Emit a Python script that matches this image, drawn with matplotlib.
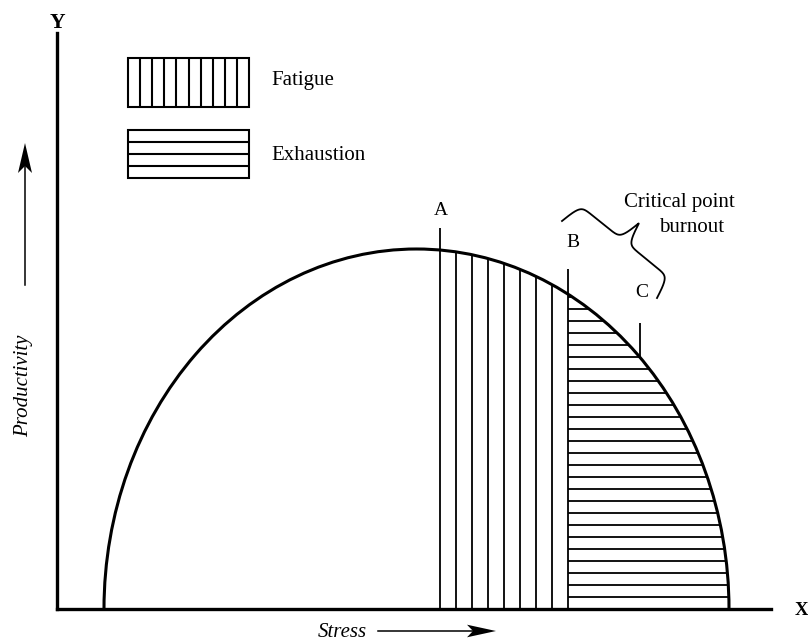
import numpy as np
import matplotlib.pyplot as plt
from matplotlib.patches import Arc, Ellipse, Rectangle, Polygon

plt.rcParams['font.family'] = ['Liberation Serif', 'DejaVu Serif']

# Productivity curve (half ellipse over the stress axis)
curve_start = 47
curve_end = 672
peak_productivity = 360

# Points A, B, C on the stress axis and how high their markers reach
point_names = ['A', 'B', 'C']
point_stress = [383, 511, 583]
marker_top = [381, 340, 286]
c_marker_bottom = 252

# hatching spacing
fatigue_step = 16
exhaustion_step = 12

fig = plt.figure(figsize=(8.08, 6.41), dpi=100)
ax = fig.add_axes([57 / 808, 32 / 641, 714 / 808, 576 / 641])
ax.set_xlim(0, 714)
ax.set_ylim(0, 576)
for s in ['top', 'right']:
    ax.spines[s].set_visible(False)
for s in ['left', 'bottom']:
    ax.spines[s].set_linewidth(2.4)
ax.set_xticks([])
ax.set_yticks([])

center = (curve_start + curve_end) / 2
width = curve_end - curve_start
ax.add_patch(Arc((center, 0), width, 2 * peak_productivity, theta1=0, theta2=180,
                 lw=2.2, color='black'))
clip = Ellipse((center, 0), width, 2 * peak_productivity, transform=ax.transData)

a, b, c = point_stress
# fatigue zone: vertical hatch between A and B
fx = np.arange(a + fatigue_step, b - 1, fatigue_step)
vl = ax.vlines(fx, 0, peak_productivity + 10, color='black', lw=1.3)
vl.set_clip_path(clip)
# exhaustion zone: horizontal hatch right of B
hy = np.arange(exhaustion_step, peak_productivity, exhaustion_step)
hl = ax.hlines(hy, b, curve_end, color='black', lw=1.3)
hl.set_clip_path(clip)

# markers A, B, C
ax.vlines([a, b], 0, marker_top[:2], color='black', lw=1.3)
ax.vlines(c, c_marker_bottom, marker_top[2], color='black', lw=1.3)
label_pos = [(a + 1, 394), (b + 5, 362), (c + 2, 312)]
for name, (lx, ly) in zip(point_names, label_pos):
    ax.text(lx, ly, name, ha='center', va='baseline', fontsize=14)

# curly brace for critical point
p0 = np.array([505.0, 388.0])
p1 = np.array([600.0, 311.0])
d = p1 - p0
L = np.hypot(*d)
u = d / L
n = np.array([-u[1], u[0]])
if np.dot(n, [1, 1]) < 0:
    n = -n
t = np.linspace(0, L, 400)
half = t[t <= L / 2]
beta = 0.4
yh = 1 / (1 + np.exp(-beta * half)) + 1 / (1 + np.exp(-beta * (half - L / 2)))
yb = np.concatenate([yh, yh[::-1]])
tb = np.concatenate([half, L - half[::-1]])
off = (yb - 0.5) * 47
pts = p0[None, :] + tb[:, None] * u[None, :] + off[:, None] * n[None, :]
ax.plot(pts[:, 0], pts[:, 1], color='black', lw=1.3, clip_on=False)
ax.text(622, 402, 'Critical point', ha='center', va='baseline', fontsize=15)
ax.text(635, 377, 'burnout', ha='center', va='baseline', fontsize=15)

# legend boxes
box_x, box_w = 71, 121
ax.add_patch(Rectangle((box_x, 502), box_w, 49, fill=False, lw=1.5, clip_on=False))
ax.vlines(box_x + box_w / 10 * np.arange(1, 10), 502, 551, color='black', lw=1.5)
ax.add_patch(Rectangle((box_x, 431), box_w, 48, fill=False, lw=1.5, clip_on=False))
ax.hlines(431 + 12 * np.arange(1, 4), box_x, box_x + box_w, color='black', lw=1.5)
ax.text(214, 524, 'Fatigue', ha='left', va='baseline', fontsize=15)
ax.text(214, 449, 'Exhaustion', ha='left', va='baseline', fontsize=15)

# axis names and arrows
ax.text(0, 581, 'Y', ha='center', va='baseline', fontsize=15.5, fontweight='bold')
ax.text(744.7, -6, 'X', ha='center', va='baseline', fontsize=13.5, fontweight='bold')
ax.text(-33, 223, 'Productivity', rotation=90, ha='center', va='center',
        fontsize=15, style='italic')
ax.text(261, -28, 'Stress', ha='left', va='baseline', fontsize=15, style='italic')


def arrow(x0, y0, x1, y1, length, half_w, notch):
    v = np.array([x1 - x0, y1 - y0], float)
    v /= np.hypot(*v)
    w = np.array([-v[1], v[0]])
    tip = np.array([x1, y1], float)
    base = tip - v * length
    nk = tip - v * (length - notch)
    ax.plot([x0, nk[0]], [y0, nk[1]], color='black', lw=1.1, clip_on=False)
    ax.add_patch(Polygon([tip, base + w * half_w, nk, base - w * half_w],
                         closed=True, color='black', lw=0, clip_on=False))


arrow(-32, 324, -32, 466, 30, 7, 7)
arrow(321, -22, 439, -22, 29, 6.3, 6)

fig.savefig('out.png', dpi=100)
